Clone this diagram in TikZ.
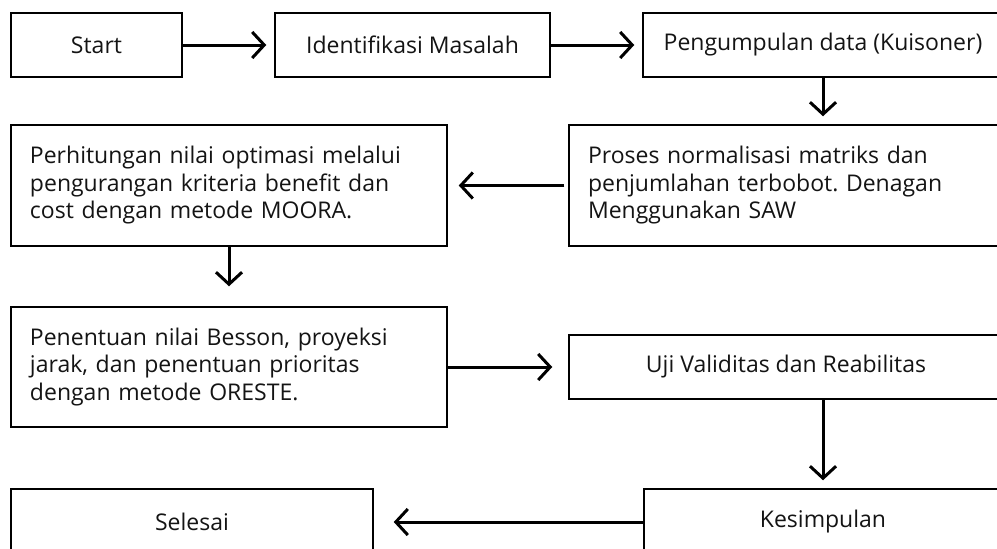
\documentclass[tikz,border=0pt]{standalone}
\usepackage{fontspec}
\setmainfont{Open Sans}
\usetikzlibrary{arrows.meta}
\frenchspacing
\begin{document}
\begin{tikzpicture}[x=1pt,y=-1pt,
  box/.style={draw=black, line width=1.5pt, fill=white, font=\fontsize{23}{27.5}\selectfont, text=black!92, inner sep=0pt, align=center},
  mbox/.style={box, align=left, inner xsep=19pt, inner ysep=0pt},
  arr/.style={line width=3pt, -{Straight Barb[length=12pt,width=26pt]}}
]
\useasboundingbox (0,0) rectangle (997,549);
\fill[white] (0,0) rectangle (997,549);
\clip (0,0) rectangle (997,549);

\node[box, minimum width=171pt, minimum height=64pt] (start) at (96.5,45) {Start};
\node[box, minimum width=275pt, minimum height=64pt] (ident) at (412.5,45) {Identifikasi Masalah};
\node[box, minimum width=360pt, minimum height=64pt] (peng) at (823,45) {Pengumpulan data (Kuisoner)};
\node[mbox, text width=396pt, minimum height=121pt] (proses) at (786,185.5) {Proses normalisasi matriks dan\\penjumlahan terbobot. Denagan\\Menggunakan SAW};
\node[mbox, text width=398pt, minimum height=121pt] (perhit) at (229,185.5) {Perhitungan nilai optimasi melalui\\pengurangan kriteria benefit dan\\cost dengan metode MOORA.};
\node[mbox, text width=398pt, minimum height=120pt] (penent) at (229,367) {Penentuan nilai Besson, proyeksi\\jarak, dan penentuan prioritas\\dengan metode ORESTE.};
\node[box, minimum width=434pt, minimum height=64pt] (uji) at (786,367) {Uji Validitas dan Reabilitas};
\node[box, minimum width=358pt, minimum height=66pt] (kesim) at (823,522) {Kesimpulan};
\node[box, minimum width=362pt, minimum height=66pt] (selesai) at (192,522) {Selesai};

\draw[arr, shorten >=8pt] (start.east) -- (ident.west);
\draw[arr, shorten >=8pt] (ident.east) -- (peng.west);
\draw[arr, shorten >=8pt] (peng.south) -- (proses.north -| peng.south);
\draw[arr, shorten <=4pt, shorten >=11pt] (proses.west) -- (perhit.east);
\draw[arr, shorten >=20pt] (perhit.south) -- (penent.north);
\draw[arr, shorten >=16pt] (penent.east) -- (uji.west);
\draw[arr, shorten >=8pt] (uji.south -| kesim.north) -- (kesim.north);
\draw[arr, shorten >=20pt] (kesim.west) -- (selesai.east);
\end{tikzpicture}
\end{document}
